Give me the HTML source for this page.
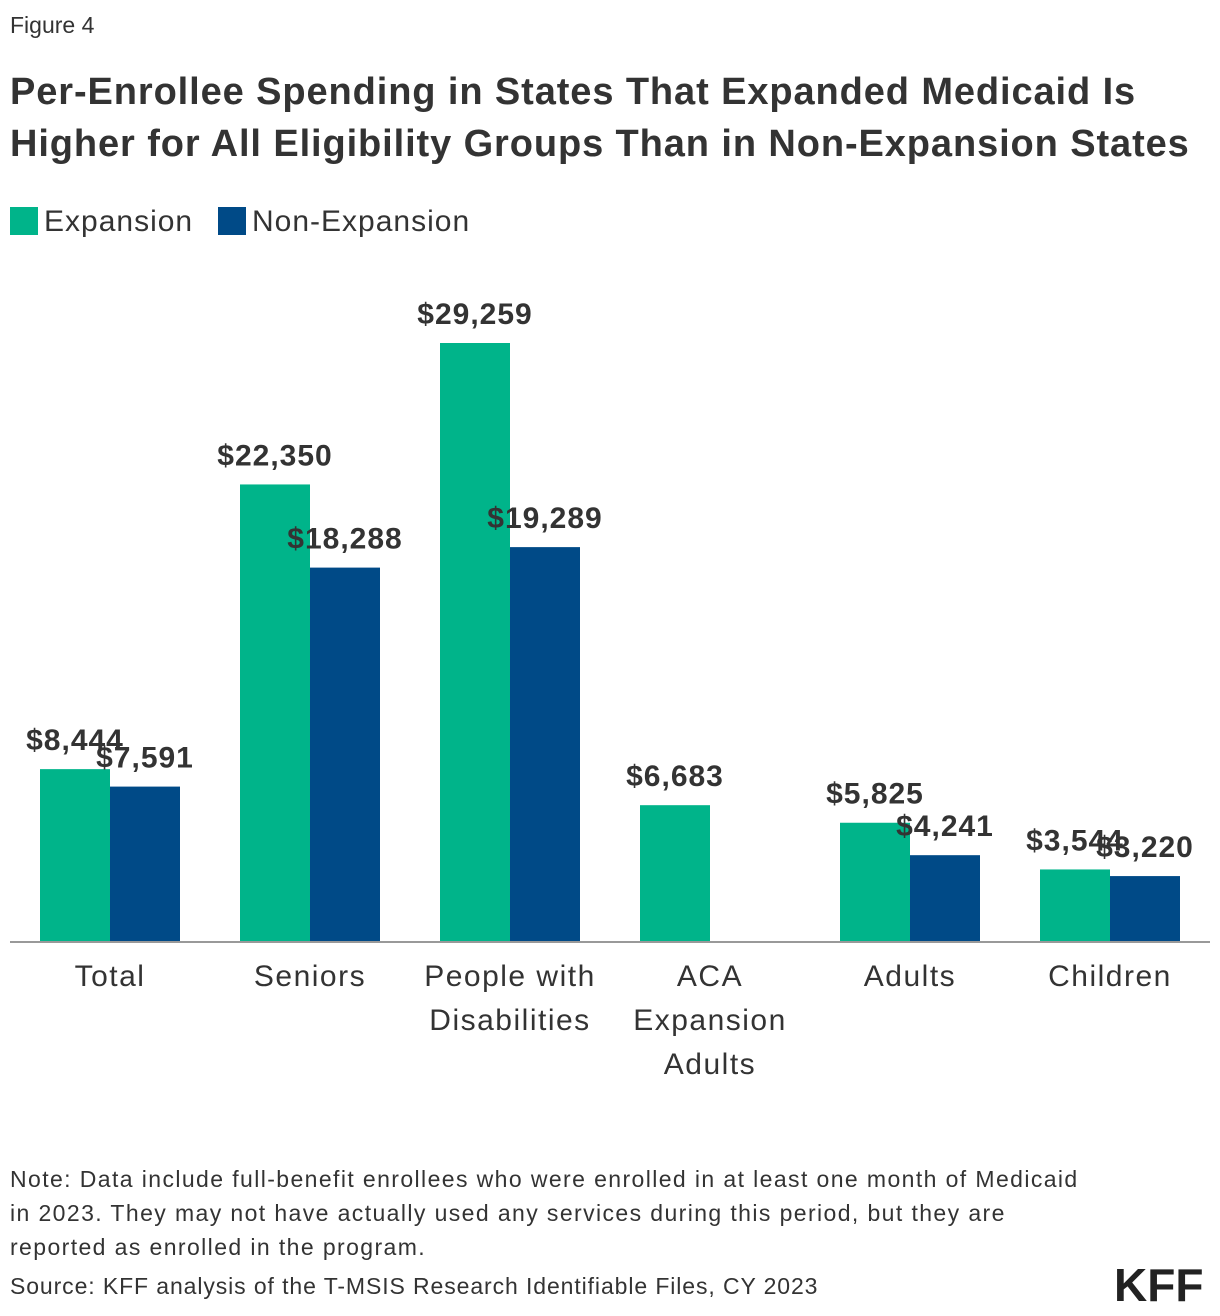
<!DOCTYPE html>
<html><head><meta charset="utf-8"><style>
body{margin:0;background:#fff;font-family:"Liberation Sans",sans-serif;color:#333;}
#wrap{position:relative;width:1220px;height:1316px;overflow:hidden;}
.t{position:absolute;white-space:nowrap;}
</style></head><body><div id="wrap">
<div class="t" style="left:10px;top:12px;font-size:23px;">Figure 4</div>
<div class="t" style="left:10px;top:66px;font-size:38px;font-weight:bold;line-height:52px;letter-spacing:0.9px;">Per-Enrollee Spending in States That Expanded Medicaid Is<br>Higher for All Eligibility Groups Than in Non-Expansion States</div>
<div class="t" style="left:10px;top:205px;font-size:30px;letter-spacing:1px;"><span style="display:inline-block;width:28px;height:28px;background:#00b48a;vertical-align:-4px;margin-right:6px"></span>Expansion</div>
<div class="t" style="left:218px;top:205px;font-size:30px;letter-spacing:1px;"><span style="display:inline-block;width:28px;height:28px;background:#004a87;vertical-align:-4px;margin-right:6px"></span>Non-Expansion</div>
<svg id="chart" width="1220" height="1120" style="position:absolute;left:0;top:0"></svg>
<div class="t" style="left:10px;top:1162px;font-size:23px;line-height:34px;letter-spacing:1.4px;">Note: Data include full-benefit enrollees who were enrolled in at least one month of Medicaid<br>in 2023. They may not have actually used any services during this period, but they are<br>reported as enrolled in the program.</div>
<div class="t" style="left:10px;top:1273px;font-size:23px;letter-spacing:0.9px;">Source: KFF analysis of the T-MSIS Research Identifiable Files, CY 2023</div>
<div class="t" style="left:1114px;top:1258px;font-size:46px;font-weight:bold;color:#222;letter-spacing:0px;">KFF</div>
</div>
<script>
const categories=[["Total"],["Seniors"],["People with","Disabilities"],["ACA","Expansion","Adults"],["Adults"],["Children"]];
const expansion=[8444,22350,29259,6683,5825,3544];
const nonExpansion=[7591,18288,19289,null,4241,3220];
const svg=document.getElementById('chart');
const NS='http://www.w3.org/2000/svg';
const base=942, scale=599/29259;
const y=v=>base-v*scale;
const cx=i=>110+i*200;
function mk(tag,attrs){const e=document.createElementNS(NS,tag);for(const k in attrs)e.setAttribute(k,attrs[k]);svg.appendChild(e);return e;}
function fmt(v){return '$'+v.toLocaleString('en-US');}
categories.forEach((c,i)=>{
  [[expansion[i],'#00b48a',-70,'expansion'],[nonExpansion[i],'#004a87',0,'non-expansion']].forEach(([v,col,off,nm])=>{
    if(v==null)return;
    const r=mk('rect',{x:cx(i)+off,y:y(v),width:70,height:v*scale,fill:col});
    
    
    const t=mk('text',{x:cx(i)+off+35,y:y(v)-19,'text-anchor':'middle','font-size':30,'font-weight':'bold',fill:'#333','font-family':'Liberation Sans','letter-spacing':'1'});
    t.textContent=fmt(v);
    
    
  });
  c.forEach((line,j)=>{
    const t=mk('text',{x:cx(i),y:986+j*44,'text-anchor':'middle','font-size':30,fill:'#333','font-family':'Liberation Sans','letter-spacing':'1.5'});
    t.textContent=line;
    
    
  });
});
const ax=mk('line',{x1:10,x2:1210,y1:base,y2:base,stroke:'#999','stroke-width':2});


</script></body></html>
